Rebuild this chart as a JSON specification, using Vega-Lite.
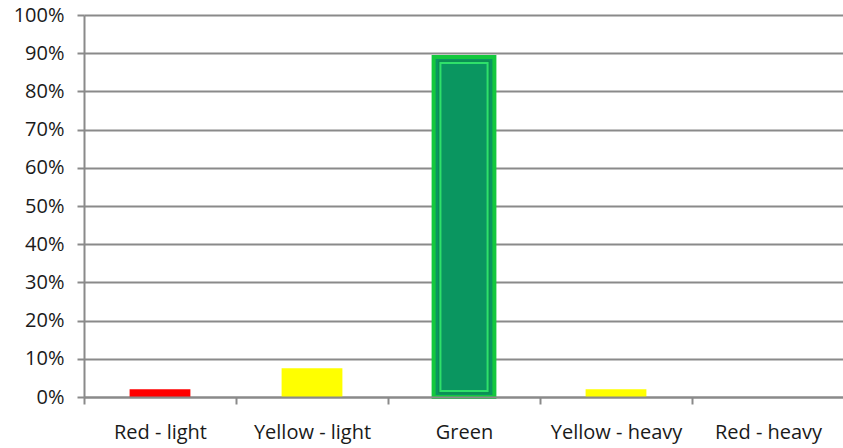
{
  "$schema": "https://vega.github.io/schema/vega-lite/v6.json",
  "width": 760,
  "height": 382,
  "autosize": {"type": "none"},
  "padding": {"left": 84, "top": 15, "right": 0, "bottom": 51},
  "background": "white",
  "config": {
    "view": {"stroke": null},
    "font": "Open Sans",
    "axis": {
      "labelFont": "Open Sans",
      "labelFontSize": 20,
      "labelColor": "#1a1a1a",
      "domainColor": "#8a8a8a",
      "domainWidth": 2,
      "tickColor": "#8a8a8a",
      "tickWidth": 2,
      "tickSize": 7,
      "gridColor": "#8a8a8a",
      "gridWidth": 2,
      "title": null
    }
  },
  "data": {
    "values": [
      {"category": "Red - light", "share": 0.02, "tone": "red"},
      {"category": "Yellow - light", "share": 0.075, "tone": "yellow"},
      {"category": "Green", "share": 0.89, "tone": "green"},
      {"category": "Yellow - heavy", "share": 0.02, "tone": "yellow"},
      {"category": "Red - heavy", "share": 0.0, "tone": "red"}
    ]
  },
  "encoding": {
    "x": {
      "field": "category",
      "type": "nominal",
      "sort": null,
      "scale": {"paddingInner": 0, "paddingOuter": 0},
      "axis": {
        "labelAngle": 0,
        "tickBand": "extent",
        "grid": false,
        "labelPadding": 18,
        "zindex": 1
      }
    },
    "y": {
      "field": "share",
      "type": "quantitative",
      "stack": null,
      "scale": {"domain": [0, 1], "nice": false},
      "axis": {
        "format": "%",
        "values": [0, 0.1, 0.2, 0.3, 0.4, 0.5, 0.6, 0.7, 0.8, 0.9, 1],
        "labelPadding": 13,
        "grid": true
      }
    }
  },
  "layer": [
    {
      "mark": {"type": "bar", "width": {"band": 0.4}},
      "encoding": {
        "color": {
          "field": "tone",
          "type": "nominal",
          "scale": {
            "domain": ["red", "yellow", "green"],
            "range": ["#ff0000", "#ffff00", "#0a9660"]
          },
          "legend": null
        },
        "stroke": {
          "field": "tone",
          "type": "nominal",
          "scale": {
            "domain": ["red", "yellow", "green"],
            "range": ["#ff0000", "#ffff00", "#14c83e"]
          },
          "legend": null
        },
        "strokeWidth": {
          "condition": {"test": "datum.tone === 'green'", "value": 4},
          "value": 0
        }
      }
    },
    {
      "transform": [{"filter": "datum.tone === 'green'"}],
      "mark": {
        "type": "bar",
        "width": {"band": 0.33},
        "fillOpacity": 0,
        "stroke": "#0f8a4a",
        "strokeWidth": 1,
        "yOffset": 4,
        "y2Offset": -4
      },
      "encoding": {"y2": {"datum": 0}}
    },
    {
      "transform": [{"filter": "datum.tone === 'green'"}],
      "mark": {
        "type": "bar",
        "width": {"band": 0.31},
        "fillOpacity": 0,
        "stroke": "#2fe06a",
        "strokeWidth": 2,
        "yOffset": 6,
        "y2Offset": -6
      },
      "encoding": {"y2": {"datum": 0}}
    }
  ]
}
